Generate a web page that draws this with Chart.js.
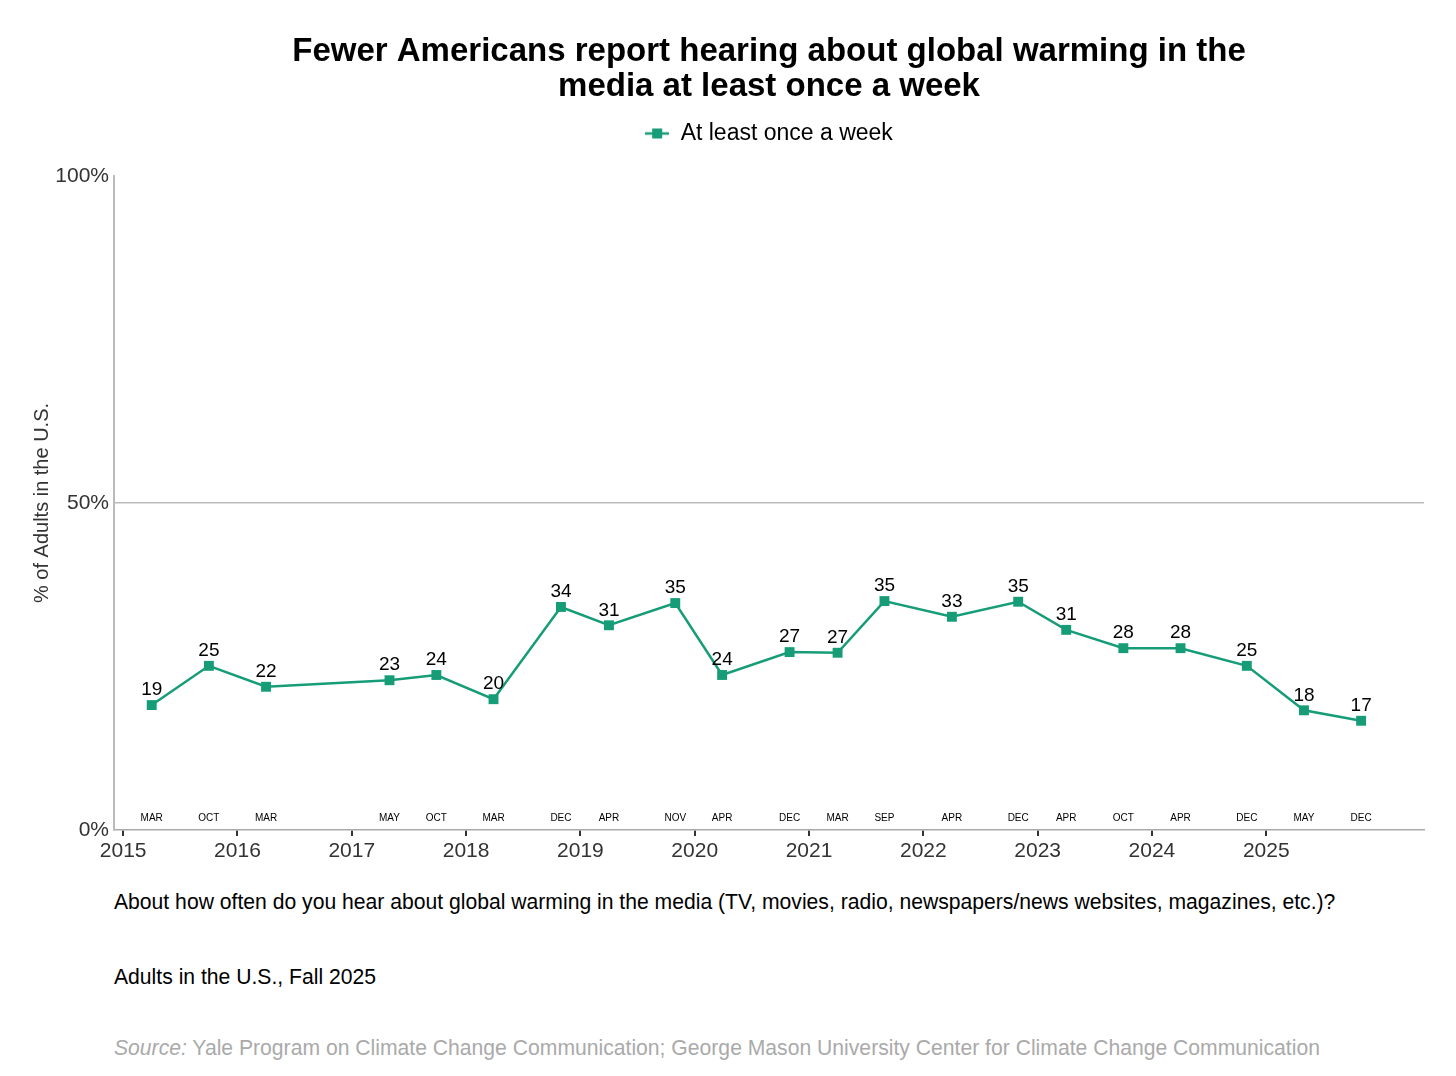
<!DOCTYPE html>
<html>
<head>
<meta charset="utf-8">
<script src="https://cdn.jsdelivr.net/npm/chart.js@4.4.1/dist/chart.umd.min.js"></script>
<style>
body { margin: 0; background: #fff; font-family: "Liberation Sans", Arial, sans-serif; }
#wrap { position: relative; width: 1456px; height: 1076px; }
#chartBox { position: absolute; left: 0; top: 0; width: 1456px; height: 870px; }
.note { position: absolute; left: 114px; font-size: 21.15px; line-height: 24px; color: #000; white-space: nowrap; }
.src { color: #aaa; }
</style>
</head>
<body>
<div id="wrap">
  <div id="chartBox"><canvas id="lineChart"></canvas></div>
  <div class="note" style="top:890px">About how often do you hear about global warming in the media (TV, movies, radio, newspapers/news websites, magazines, etc.)?</div>
  <div class="note" style="top:965px">Adults in the U.S., Fall 2025</div>
  <div class="note src" style="top:1036px"><i>Source:</i> Yale Program on Climate Change Communication; George Mason University Center for Climate Change Communication</div>
</div>
<script>
// survey waves, as fractional years
var surveyDates = [2015.25, 2015.75, 2016.25, 2017.33, 2017.74, 2018.24, 2018.83, 2019.25, 2019.83, 2020.24,
    2020.83, 2021.25, 2021.66, 2022.25, 2022.83, 2023.25, 2023.75, 2024.25, 2024.83, 2025.33, 2025.83];
var surveyMonths = ["MAR", "OCT", "MAR", "MAY", "OCT", "MAR", "DEC", "APR", "NOV", "APR",
    "DEC", "MAR", "SEP", "APR", "DEC", "APR", "OCT", "APR", "DEC", "MAY", "DEC"];
var weeklyPct = [19.1, 25.1, 21.9, 22.9, 23.7, 20.0, 34.1, 31.3, 34.7, 23.7,
    27.2, 27.1, 35.0, 32.6, 34.9, 30.6, 27.8, 27.8, 25.1, 18.3, 16.7];
var yearTicks = [2015, 2016, 2017, 2018, 2019, 2020, 2021, 2022, 2023, 2024, 2025];
var pctTicks = [0, 50, 100];

var lineColor = "#169d78";
var fontFam = '"Liberation Sans", Arial, sans-serif';
Chart.defaults.font.family = fontFam;

var points = [];
for (var i = 0; i < surveyDates.length; i++) {
    points.push({ x: surveyDates[i], y: weeklyPct[i] });
}

// legend icon: line with a square on it
var legendIcon = document.createElement("canvas");
legendIcon.width = 24;
legendIcon.height = 12;
var g = legendIcon.getContext("2d");
g.strokeStyle = lineColor;
g.lineWidth = 2.5;
g.beginPath(); g.moveTo(0, 6); g.lineTo(24, 6); g.stroke();
g.fillStyle = lineColor;
g.fillRect(7, 1, 10, 10);

var pointLabels = {
    id: "pointLabels",
    afterDatasetsDraw: function (chart) {
        var ctx = chart.ctx;
        var meta = chart.getDatasetMeta(0);
        var bottom = chart.chartArea.bottom;
        ctx.save();
        ctx.textAlign = "center";
        ctx.textBaseline = "middle";
        ctx.fillStyle = "#000";
        for (var i = 0; i < meta.data.length; i++) {
            var p = meta.data[i];
            ctx.font = "19px " + fontFam;
            ctx.fillText(Math.round(weeklyPct[i]), p.x, p.y - 15);
            ctx.font = "10px " + fontFam;
            ctx.fillText(surveyMonths[i], p.x, bottom - 12);
        }
        ctx.restore();
    }
};

var ctx = document.getElementById("lineChart");
var myChart = new Chart(ctx, {
    type: "line",
    data: {
        datasets: [{
            label: "At least once a week",
            data: points,
            borderColor: lineColor,
            backgroundColor: lineColor,
            borderWidth: 2.5,
            pointStyle: "rect",
            pointRadius: 7,
            pointBorderWidth: 0,
            tension: 0
        }]
    },
    options: {
        responsive: true,
        maintainAspectRatio: false,
        animation: false,
        devicePixelRatio: 1,
        layout: { padding: { left: 0, right: 32, top: 0, bottom: 0 } },
        plugins: {
            title: {
                display: true,
                fullSize: false,
                text: ["Fewer Americans report hearing about global warming in the", "media at least once a week"],
                color: "#000",
                font: { size: 33, weight: "bold", lineHeight: 1.06 },
                padding: { top: 34, bottom: 8 }
            },
            // empty subtitle used as a spacer below the legend
            subtitle: {
                display: true,
                fullSize: false,
                text: "",
                weight: 500,
                font: { size: 1, lineHeight: 1 },
                padding: { top: 0, bottom: 20 }
            },
            legend: {
                position: "top",
                fullSize: false,
                labels: {
                    usePointStyle: true,
                    pointStyleWidth: 24,
                    color: "#000",
                    font: { size: 23 },
                    generateLabels: function (chart) {
                        return [{
                            text: chart.data.datasets[0].label,
                            pointStyle: legendIcon,
                            fillStyle: lineColor,
                            strokeStyle: lineColor,
                            lineWidth: 0,
                            hidden: false,
                            datasetIndex: 0
                        }];
                    }
                }
            },
            tooltip: { enabled: false }
        },
        scales: {
            x: {
                type: "linear",
                min: 2014.92,
                max: 2026.38,
                afterBuildTicks: function (scale) {
                    scale.ticks = yearTicks.map(function (v) { return { value: v }; });
                },
                afterFit: function (scale) { scale.height = 40; },
                ticks: {
                    color: "#333",
                    font: { size: 21 },
                    padding: 3,
                    maxRotation: 0,
                    autoSkip: false,
                    callback: function (v) { return String(v); }
                },
                grid: { drawOnChartArea: false, drawTicks: true, tickLength: 6, color: "#333", lineWidth: 2 },
                border: { display: true, color: "#aaa", width: 1.5 }
            },
            y: {
                min: 0,
                max: 100,
                afterBuildTicks: function (scale) {
                    scale.ticks = pctTicks.map(function (v) { return { value: v }; });
                },
                afterFit: function (scale) { scale.width = 114; },
                ticks: {
                    color: "#333",
                    font: { size: 21 },
                    padding: 5,
                    callback: function (v) { return v + "%"; }
                },
                title: {
                    display: true,
                    text: "% of Adults in the U.S.",
                    color: "#333",
                    font: { size: 20 },
                    padding: { top: 30, bottom: 0 }
                },
                grid: {
                    drawTicks: false,
                    color: function (c) { return c.tick && c.tick.value === 50 ? "#bbb" : "rgba(0,0,0,0)"; },
                    lineWidth: 1.5
                },
                border: { display: true, color: "#bbb", width: 2 }
            }
        }
    },
    plugins: [pointLabels]
});
</script>
</body>
</html>
